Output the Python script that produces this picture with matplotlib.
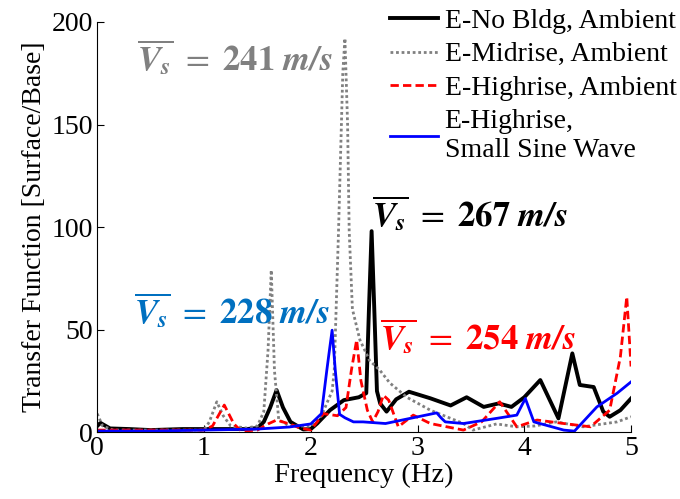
import matplotlib.pyplot as plt

plt.rcParams['font.family'] = ['Liberation Serif', 'DejaVu Serif']
plt.rcParams['mathtext.fontset'] = 'stix'

# E-No Bldg, Ambient
f_nobldg = [0, 0.03, 0.12, 0.3, 0.5, 0.8, 1.0, 1.2, 1.4, 1.5, 1.56, 1.62, 1.68, 1.74, 1.81, 1.93,
            2.0, 2.06, 2.18, 2.31, 2.45, 2.52, 2.545, 2.57, 2.595, 2.62, 2.65, 2.71, 2.8, 2.92,
            3.12, 3.31, 3.46, 3.62, 3.76, 3.88, 4.0, 4.15, 4.32, 4.45, 4.52, 4.65, 4.74, 4.80, 4.90, 5.0]
v_nobldg = [3, 4.5, 1.8, 1.5, 1, 1.5, 1.5, 1.5, 1.5, 2, 5, 12, 20.5, 12, 5, 1.3,
            1.5, 4.2, 10.7, 15.6, 17, 19, 60, 98, 60, 20, 14, 10, 16, 19.7,
            16.5, 13, 17, 12.3, 14, 12.3, 17, 25.4, 6.7, 38.4, 23, 22, 10, 7.5, 10.7, 16.4]

# E-Midrise, Ambient
f_mid = [0, 0.05, 0.15, 0.5, 1.0, 1.05, 1.12, 1.18, 1.25, 1.4, 1.5, 1.56, 1.60, 1.63, 1.66, 1.70,
         1.8, 2.0, 2.1, 2.2, 2.22, 2.26, 2.30, 2.32, 2.345, 2.36, 2.39, 2.46, 2.55, 2.65, 2.74,
         2.9, 3.12, 3.43, 3.52, 3.74, 3.93, 4.1, 4.3, 4.55, 4.87, 5.0]
v_mid = [9, 3, 1, 1, 1, 5, 14.8, 8, 3, 2, 3, 10, 40, 79, 30, 6,
         3, 3, 8, 20, 30, 98, 175, 192, 150, 98, 60, 45, 35, 30, 24,
         17, 10.7, 4.2, 1, 4, 2.6, 3, 5, 2.6, 5, 7.5]

# E-Highrise, Ambient
f_high = [0, 0.5, 1.0, 1.08, 1.19, 1.28, 1.35, 1.5, 1.6, 1.68, 1.8, 1.9, 2.0, 2.12, 2.25, 2.33,
          2.38, 2.43, 2.47, 2.53, 2.58, 2.63, 2.68, 2.73, 2.82, 2.96, 3.12, 3.43, 3.6, 3.77,
          3.93, 4.12, 4.37, 4.62, 4.80, 4.90, 4.96, 5.0]
v_high = [1, 1, 1, 3, 13.2, 4, 0.5, 1, 4, 5.9, 4, 2, 1, 9, 8, 12,
          30, 45, 25, 10.7, 5, 10, 18, 15.6, 2.6, 8.3, 4.2, 1, 5, 14.8,
          2.6, 5.9, 4.2, 2.6, 10.7, 36.7, 66, 32]

# E-Highrise, Small Sine Wave
f_sine = [0, 0.5, 1.0, 1.5, 1.8, 2.0, 2.1, 2.15, 2.17, 2.20, 2.23, 2.27, 2.32, 2.40, 2.49, 2.70,
          2.93, 3.18, 3.22, 3.26, 3.43, 3.74, 3.93, 4.01, 4.09, 4.37, 4.47, 4.68, 4.87, 5.0]
v_sine = [0.5, 0.5, 1, 1.5, 2.5, 4, 9, 30, 38, 49.7, 30, 8.7, 7, 5, 5, 4.2,
          6.7, 9.4, 7, 5, 4.2, 6.7, 8.3, 16.4, 5, 1, 0.5, 12.3, 19, 24.5]

fig = plt.figure(figsize=(6.8, 4.99), dpi=100)
ax = fig.add_axes([0.143, 0.134, 0.785, 0.822])

ax.plot(f_nobldg, v_nobldg, color='black', lw=2.8, label='E-No Bldg, Ambient')
ax.plot(f_mid, v_mid, color='#808080', lw=2.0, ls=(0, (1, 1)), label='E-Midrise, Ambient')
ax.plot(f_high, v_high, color='#ff0000', lw=2.0, ls=(0, (3, 1.5)), label='E-Highrise, Ambient')
ax.plot(f_sine, v_sine, color='#0000ff', lw=2.0, label='E-Highrise,\nSmall Sine Wave')

ax.set_xlim(0, 5)
ax.set_ylim(0, 200)
ax.set_xticks([0, 1, 2, 3, 4, 5])
ax.set_yticks([0, 50, 100, 150, 200])
ax.tick_params(direction='in', length=5, labelsize=20, pad=3)
for s in ['top', 'right']:
    ax.spines[s].set_visible(False)
ax.set_xlabel('Frequency (Hz)', fontsize=20.5, labelpad=1)
ax.set_ylabel('Transfer Function [Surface/Base]', fontsize=20, labelpad=3)

ax.legend(loc='upper right', bbox_to_anchor=(1.085, 1.033), frameon=False, fontsize=20,
          handlelength=1.75, handletextpad=0.22, labelspacing=0.29, borderaxespad=0,
          borderpad=0)

lbl = r'$\overline{\mathbfit{V_s}}\ = \ \mathbf{%d}\ \mathbfit{m/s}$'
ax.text(0.37, 182, lbl % 241, color='#808080', fontsize=25, va='center', ha='left')
ax.text(2.57, 106, lbl % 267, color='black', fontsize=25, va='center', ha='left')
ax.text(0.34, 58.5, lbl % 228, color='#0070c0', fontsize=25, va='center', ha='left')
ax.text(2.65, 46, lbl % 254, color='#ff0000', fontsize=25, va='center', ha='left')

fig.savefig('out.png', dpi=100)
